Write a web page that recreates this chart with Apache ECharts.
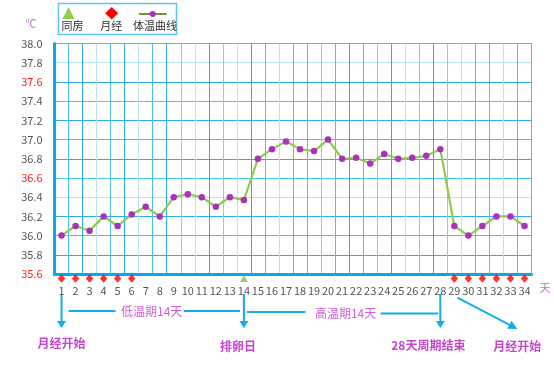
<!DOCTYPE html>
<html>
<head>
<meta charset="utf-8">
<script src="https://cdn.jsdelivr.net/npm/echarts@6/dist/echarts.min.js"></script>
<style>
html,body{margin:0;padding:0;background:#fff;}
#main{width:554px;height:368px;}
</style>
</head>
<body>
<div id="main"></div>
<script>
// ---- data ----
const days = ['1','2','3','4','5','6','7','8','9','10','11','12','13','14','15','16','17','18','19','20','21','22','23','24','25','26','27','28','29','30','31','32','33','34'];
const temperature = [36.0,36.1,36.05,36.2,36.1,36.22,36.3,36.2,36.4,36.43,36.4,36.3,36.4,36.37,36.8,36.9,36.98,36.9,36.88,37.0,36.8,36.81,36.75,36.85,36.8,36.81,36.83,36.9,36.1,36.0,36.1,36.2,36.2,36.1];
const mensesDays = ['1','2','3','4','5','6','29','30','31','32','33','34'];
const intercourseDays = ['14'];
const redTicks = ['37.6','36.6','35.6'];
const seriesNames = ['同房','月经','体温曲线'];
const phaseLabels = ['低温期14天','高温期14天'];
const eventLabels = ['月经开始','排卵日','28天周期结束','月经开始'];
const eventDays = ['1','14','28','29'];
const yMin = 35.6, yMax = 38.0, yStep = 0.2;

const FONT = '"Noto Sans CJK SC", "Noto Sans", sans-serif';
const PURPLE = '#c545cc';
const ARROW = '#12aee8';

// vertical split-line colour pattern (as seen in reference)
const B = '#45c4f0', D = '#2cade0', L = '#b8e5f5', M = '#80d1ef';
const vColors = [B,B,D,L,B,D,L,B,D,M,L,D,M,L,D,B,L,B,B,M,B,D,B,M,D,L,M,D,M,L,B,B,L,B,B];
const hColors = [B,D,B,D,L,B,D,B,D,B,D,L,B];

const chart = echarts.init(document.getElementById('main'), null, {renderer:'canvas'});

const option = {
  animation: false,
  textStyle: {fontFamily: FONT},
  grid: {left: 54.5, right: 22.5, top: 43.5, bottom: 94, show: true, borderColor: B, borderWidth: 1},
  xAxis: {
    type: 'category',
    data: days,
    boundaryGap: true,
    axisLine: {show: true, lineStyle: {color: '#08a9e8', width: 3}},
    axisTick: {show: false},
    axisLabel: {color: '#555', fontSize: 11, margin: 11, interval: 0, fontFamily: FONT},
    splitLine: {show: true, interval: 0, lineStyle: {color: vColors, width: 1}}
  },
  yAxis: {
    type: 'value',
    min: yMin, max: yMax, interval: yStep,
    axisLine: {show: true, lineStyle: {color: '#08a9e8', width: 3}},
    axisTick: {show: false},
    axisLabel: {
      fontSize: 11, margin: 12, fontFamily: FONT,
      formatter: v => v.toFixed(1),
      color: v => redTicks.indexOf(Number(v).toFixed(1)) >= 0 ? '#ff1a1a' : '#555'
    },
    splitLine: {show: true, lineStyle: {color: hColors, width: 1}}
  },
  series: [
    {
      name: seriesNames[2],
      type: 'line',
      data: temperature,
      symbol: 'circle',
      symbolSize: 6.5,
      lineStyle: {color: '#8dcb4a', width: 2.2},
      itemStyle: {color: '#ad2fbd'},
      z: 5
    },
    {
      name: seriesNames[1],
      type: 'scatter',
      data: mensesDays.map(d => [d, yMin]),
      symbol: 'diamond',
      symbolSize: [7.5, 8.5],
      symbolOffset: [0, 4.5],
      itemStyle: {color: '#ff0000'},
      clip: false,
      z: 6
    },
    {
      name: seriesNames[0],
      type: 'scatter',
      data: intercourseDays.map(d => [d, yMin]),
      symbol: 'triangle',
      symbolSize: [8, 7],
      symbolOffset: [0, 4.5],
      itemStyle: {color: '#8bc34a'},
      clip: false,
      z: 6
    }
  ]
};
chart.setOption(option);

const px = d => chart.convertToPixel({xAxisIndex: 0}, days.indexOf(d));
const xs = eventDays.map(px);

function vArrow(x, y1, y2) {
  return [
    {type:'line', shape:{x1:x, y1:y1, x2:x, y2:y2-5}, style:{stroke:ARROW, lineWidth:2}},
    {type:'polygon', shape:{points:[[x-4.5,y2-7],[x+4.5,y2-7],[x,y2]]}, style:{fill:ARROW}}
  ];
}
function hLine(x1, x2, y) {
  return {type:'line', shape:{x1:x1, y1:y, x2:x2, y2:y}, style:{stroke:ARROW, lineWidth:2}};
}
function txt(x, y, s, opts) {
  return Object.assign({type:'text', x:x, y:y, style:Object.assign({text:s, fill:PURPLE, font:'12px ' + FONT, textAlign:'center', textVerticalAlign:'middle'}, opts||{})});
}

const g = [];
// legend box
g.push({type:'rect', shape:{x:58.5, y:3.5, width:118, height:31}, style:{fill:'#fff', stroke:'#5cc6ee', lineWidth:1.5}});
g.push({type:'polygon', shape:{points:[[62.5,19],[74.5,19],[68.5,7]]}, style:{fill:'#8fce4f'}});
g.push({type:'polygon', shape:{points:[[111.7,7],[118.2,13.3],[111.7,19.6],[105.2,13.3]]}, style:{fill:'#ff0000'}});
g.push({type:'line', shape:{x1:139, y1:14, x2:166.7, y2:14}, style:{stroke:'#76923c', lineWidth:2}});
g.push({type:'circle', shape:{cx:152.7, cy:14, r:3}, style:{fill:'#ad2fbd'}});
g.push(txt(72.5, 25.5, seriesNames[0], {fill:'#333', font:'11px ' + FONT}));
g.push(txt(111.3, 25.5, seriesNames[1], {fill:'#333', font:'11px ' + FONT}));
g.push(txt(155, 25.5, seriesNames[2], {fill:'#333', font:'11px ' + FONT}));
// unit labels
g.push(txt(31, 24, '℃', {fill:'#c46ad8', font:'11px ' + FONT}));
g.push(txt(545, 287.5, '天', {fill:'#c46ad8', font:'11px ' + FONT}));
// vertical arrows
[xs[0], xs[1], xs[2]].forEach(x => g.push(...vArrow(x, 294, 328)));
// phase lines and labels
const c1 = (xs[0] + xs[1]) / 2 - 1;
const c2 = (xs[1] + xs[2]) / 2 + 3.5;
g.push(hLine(xs[0] + 7, c1 - 36, 311));
g.push(hLine(c1 + 32, xs[1] - 4, 311));
g.push(txt(c1, 311, phaseLabels[0], {fill:'#cf5fd6'}));
g.push(hLine(xs[1] + 3, c2 - 40, 312));
g.push(hLine(c2 + 35, xs[2] - 2, 313.5));
g.push(txt(c2, 313.5, phaseLabels[1], {fill:'#cf5fd6'}));
// diagonal arrow
(function(){
  const sx = xs[3] + 3, sy = 297.7, ex = xs[3] + 63, ey = 329;
  const dx = ex - sx, dy = ey - sy, len = Math.hypot(dx, dy);
  const ux = dx/len, uy = dy/len, vx = -uy, vy = ux;
  g.push({type:'line', shape:{x1:sx, y1:sy, x2:ex-6*ux, y2:ey-6*uy}, style:{stroke:ARROW, lineWidth:2}});
  g.push({type:'polygon', shape:{points:[[ex,ey],[ex-9*ux+4.5*vx, ey-9*uy+4.5*vy],[ex-9*ux-4.5*vx, ey-9*uy-4.5*vy]]}, style:{fill:ARROW}});
})();
// event labels
g.push(txt(xs[0], 343.5, eventLabels[0], {font:'bold 12px ' + FONT}));
g.push(txt(xs[1] - 6, 346, eventLabels[1], {font:'bold 12px ' + FONT}));
g.push(txt(xs[2] - 12, 345, eventLabels[2], {font:'bold 12px ' + FONT}));
g.push(txt(xs[3] + 63, 346, eventLabels[3], {font:'bold 12px ' + FONT}));

chart.setOption({graphic: {elements: g}});
</script>
</body>
</html>
